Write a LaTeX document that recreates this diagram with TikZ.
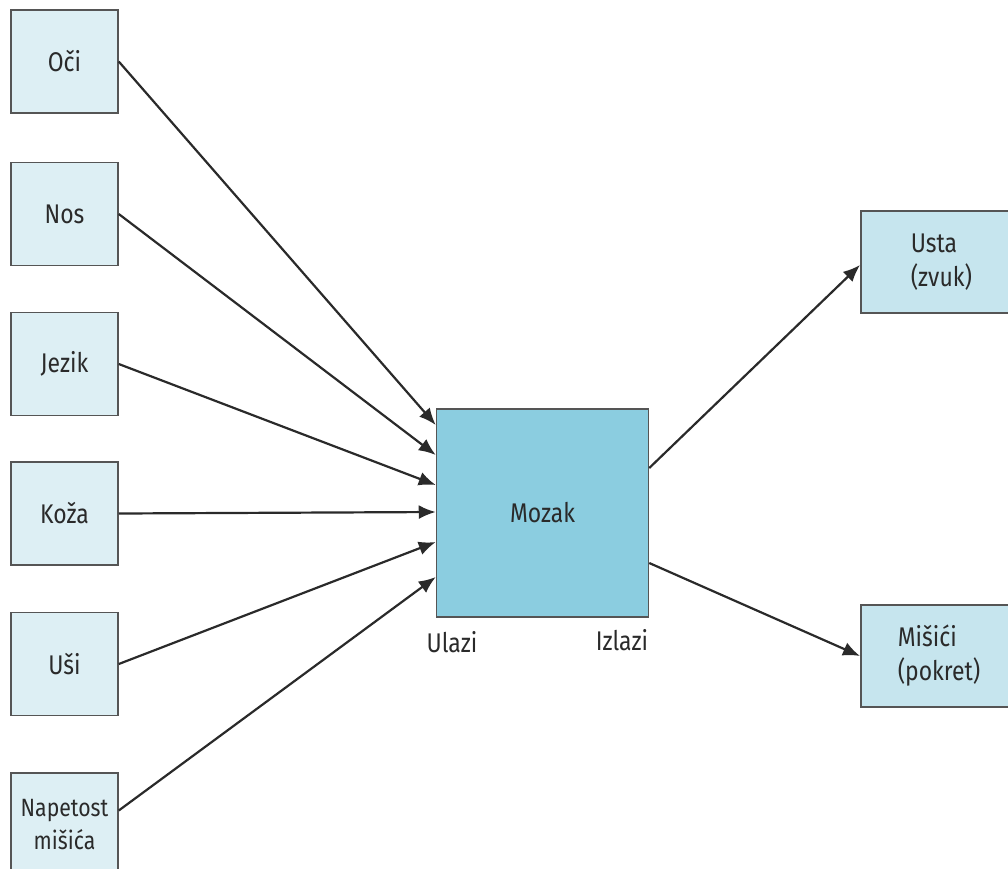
\documentclass[tikz,border=0pt]{standalone}
\usepackage{fontspec}
\setmainfont{Fira Sans}[FakeStretch=0.85]
\usetikzlibrary{arrows.meta}
\definecolor{inbox}{HTML}{DDEFF4}
\definecolor{outbox}{HTML}{C6E5EE}
\definecolor{brain}{HTML}{8BCDE0}
\definecolor{edge}{HTML}{555555}
\definecolor{wire}{HTML}{2A2A2A}
\definecolor{txt}{HTML}{2A2A2A}
\tikzset{
  inbox/.style={draw=edge, line width=1.5pt, fill=inbox, minimum width=107pt, minimum height=103pt, inner sep=0pt, text=txt, font=\fontsize{27}{33}\selectfont, align=center},
  outbox/.style={draw=edge, line width=1.5pt, fill=outbox, minimum height=102pt, text=txt, font=\fontsize{27}{34}\selectfont, align=left, anchor=west},
  brainbox/.style={draw=edge, line width=1.5pt, fill=brain, minimum width=212pt, minimum height=208pt, inner sep=0pt, text=txt, font=\fontsize{27}{33}\selectfont},
  lbl/.style={text=txt, font=\fontsize{27}{33}\selectfont, inner sep=0pt},
  wire/.style={draw=wire, line width=2.2pt, -{Latex[length=17pt,width=14pt]}}
}
\begin{document}
\begin{tikzpicture}[x=1pt,y=-1pt]
\useasboundingbox (0,0) rectangle (1008,868);
\clip (0,0) rectangle (1008,868);
\node[inbox] (oci) at (64.5,61.5) {Oči};
\node[inbox] (nos) at (64.5,214) {Nos};
\node[inbox] (jezik) at (64.5,364) {Jezik};
\node[inbox] (koza) at (64.5,513.5) {Koža};
\node[inbox] (usi) at (64.5,664) {Uši};
\node[inbox, font=\fontsize{25}{33}\selectfont] (napetost) at (64.5,824.5) {Napetost\\mišića};
\node[brainbox] (mozak) at (542.5,513) {Mozak};
\node[outbox, text width=150pt, inner xsep=50pt] (usta) at (860,262) {Usta\\(zvuk)};
\node[outbox, text width=150pt, inner xsep=37pt] (misici) at (860,656) {Mišići\\(pokret)};
\node[lbl] (ulazi) at (452,642) {Ulazi};
\node[lbl] (izlazi) at (622,640) {Izlazi};
\draw[wire] (oci.east) -- ([yshift=88pt]mozak.west);
\draw[wire] (nos.east) -- ([yshift=58pt]mozak.west);
\draw[wire] (jezik.east) -- ([yshift=28pt]mozak.west);
\draw[wire] (koza.east) -- ([yshift=1pt]mozak.west);
\draw[wire] (usi.east) -- ([yshift=-29pt]mozak.west);
\draw[wire] ([yshift=14pt]napetost.east) -- ([yshift=-64pt]mozak.west);
\draw[wire] ([yshift=45pt]mozak.east) -- ([yshift=-3pt]usta.west);
\draw[wire] ([yshift=-50pt]mozak.east) -- (misici.west);
\end{tikzpicture}
\end{document}
